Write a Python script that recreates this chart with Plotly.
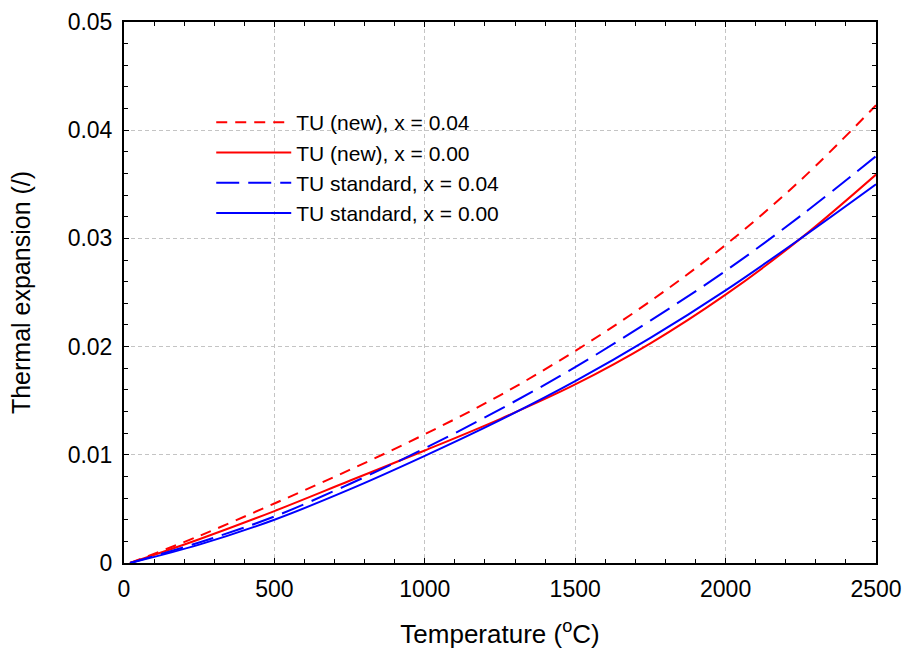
import plotly.graph_objects as go

temperature = [20, 250, 500, 750, 1000, 1250, 1500, 1750, 2000, 2250, 2500]
tu_new_004 = [0, 0.0025, 0.0055, 0.0086, 0.0119, 0.0155, 0.0196, 0.0242, 0.0294, 0.0354, 0.0423]
tu_new_000 = [0, 0.0022, 0.0048, 0.0076, 0.0104, 0.0133, 0.0165, 0.0203, 0.0248, 0.0300, 0.0359]
tu_std_004 = [0, 0.0019, 0.0043, 0.0073, 0.0106, 0.0142, 0.0181, 0.0224, 0.0270, 0.0321, 0.0376]
tu_std_000 = [0, 0.0017, 0.0040, 0.0068, 0.0099, 0.0132, 0.0168, 0.0208, 0.0252, 0.0300, 0.0350]

series = [
    ("TU (new), x = 0.04", tu_new_004, "#ff0000", "11px,8px"),
    ("TU (new), x = 0.00", tu_new_000, "#ff0000", "solid"),
    ("TU standard, x = 0.04", tu_std_004, "#0000ff", "23px,9px"),
    ("TU standard, x = 0.00", tu_std_000, "#0000ff", "solid"),
]

FONT = "Liberation Sans, Arial, sans-serif"

fig = go.Figure()
for name, ys, color, dash in series:
    fig.add_trace(go.Scatter(x=temperature, y=ys, name=name, mode="lines",
                             line=dict(color=color, width=2, dash=dash, shape="spline")))

axis_common = dict(
    showline=True, mirror="ticks", linecolor="black", linewidth=2,
    ticks="inside", ticklen=5, tickcolor="black", tickwidth=1,
    showgrid=True, gridcolor="#c4c4c4", griddash="4px,3px", gridwidth=1,
    zeroline=False, automargin=False, ticklabeloverflow="allow",
    tickfont=dict(family=FONT, size=23, color="black"),
)

fig.update_xaxes(range=[0, 2500], dtick=500, ticklabelstandoff=4,
                 minor=dict(dtick=100, ticks="inside", ticklen=4, tickcolor="black", showgrid=False),
                 title=dict(text="Temperature (<sup>o</sup>C)", font=dict(family=FONT, size=26, color="black"), standoff=24),
                 **axis_common)
fig.update_yaxes(range=[0, 0.05], dtick=0.01, ticklabelstandoff=5,
                 minor=dict(dtick=0.002, ticks="inside", ticklen=4, tickcolor="black", showgrid=False),
                 title=dict(text="Thermal expansion (/)", font=dict(family=FONT, size=25, color="black"), standoff=30),
                 **axis_common)

fig.update_layout(
    width=904, height=657,
    margin=dict(l=124, r=28, t=22, b=94),
    plot_bgcolor="white", paper_bgcolor="white",
    font=dict(family=FONT, size=22, color="black"),
    legend=dict(x=0.116, y=0.852, xanchor="left", yanchor="top",
                bgcolor="rgba(0,0,0,0)", borderwidth=0,
                font=dict(family=FONT, size=21, color="black"), tracegroupgap=0, itemwidth=75),
    showlegend=True,
)

# remove the browser's default 8px page margin so the figure fills the window
fig.write_html("out.html", config={"displayModeBar": False},
               post_script="document.body.style.margin='0';document.body.style.overflow='hidden';")
